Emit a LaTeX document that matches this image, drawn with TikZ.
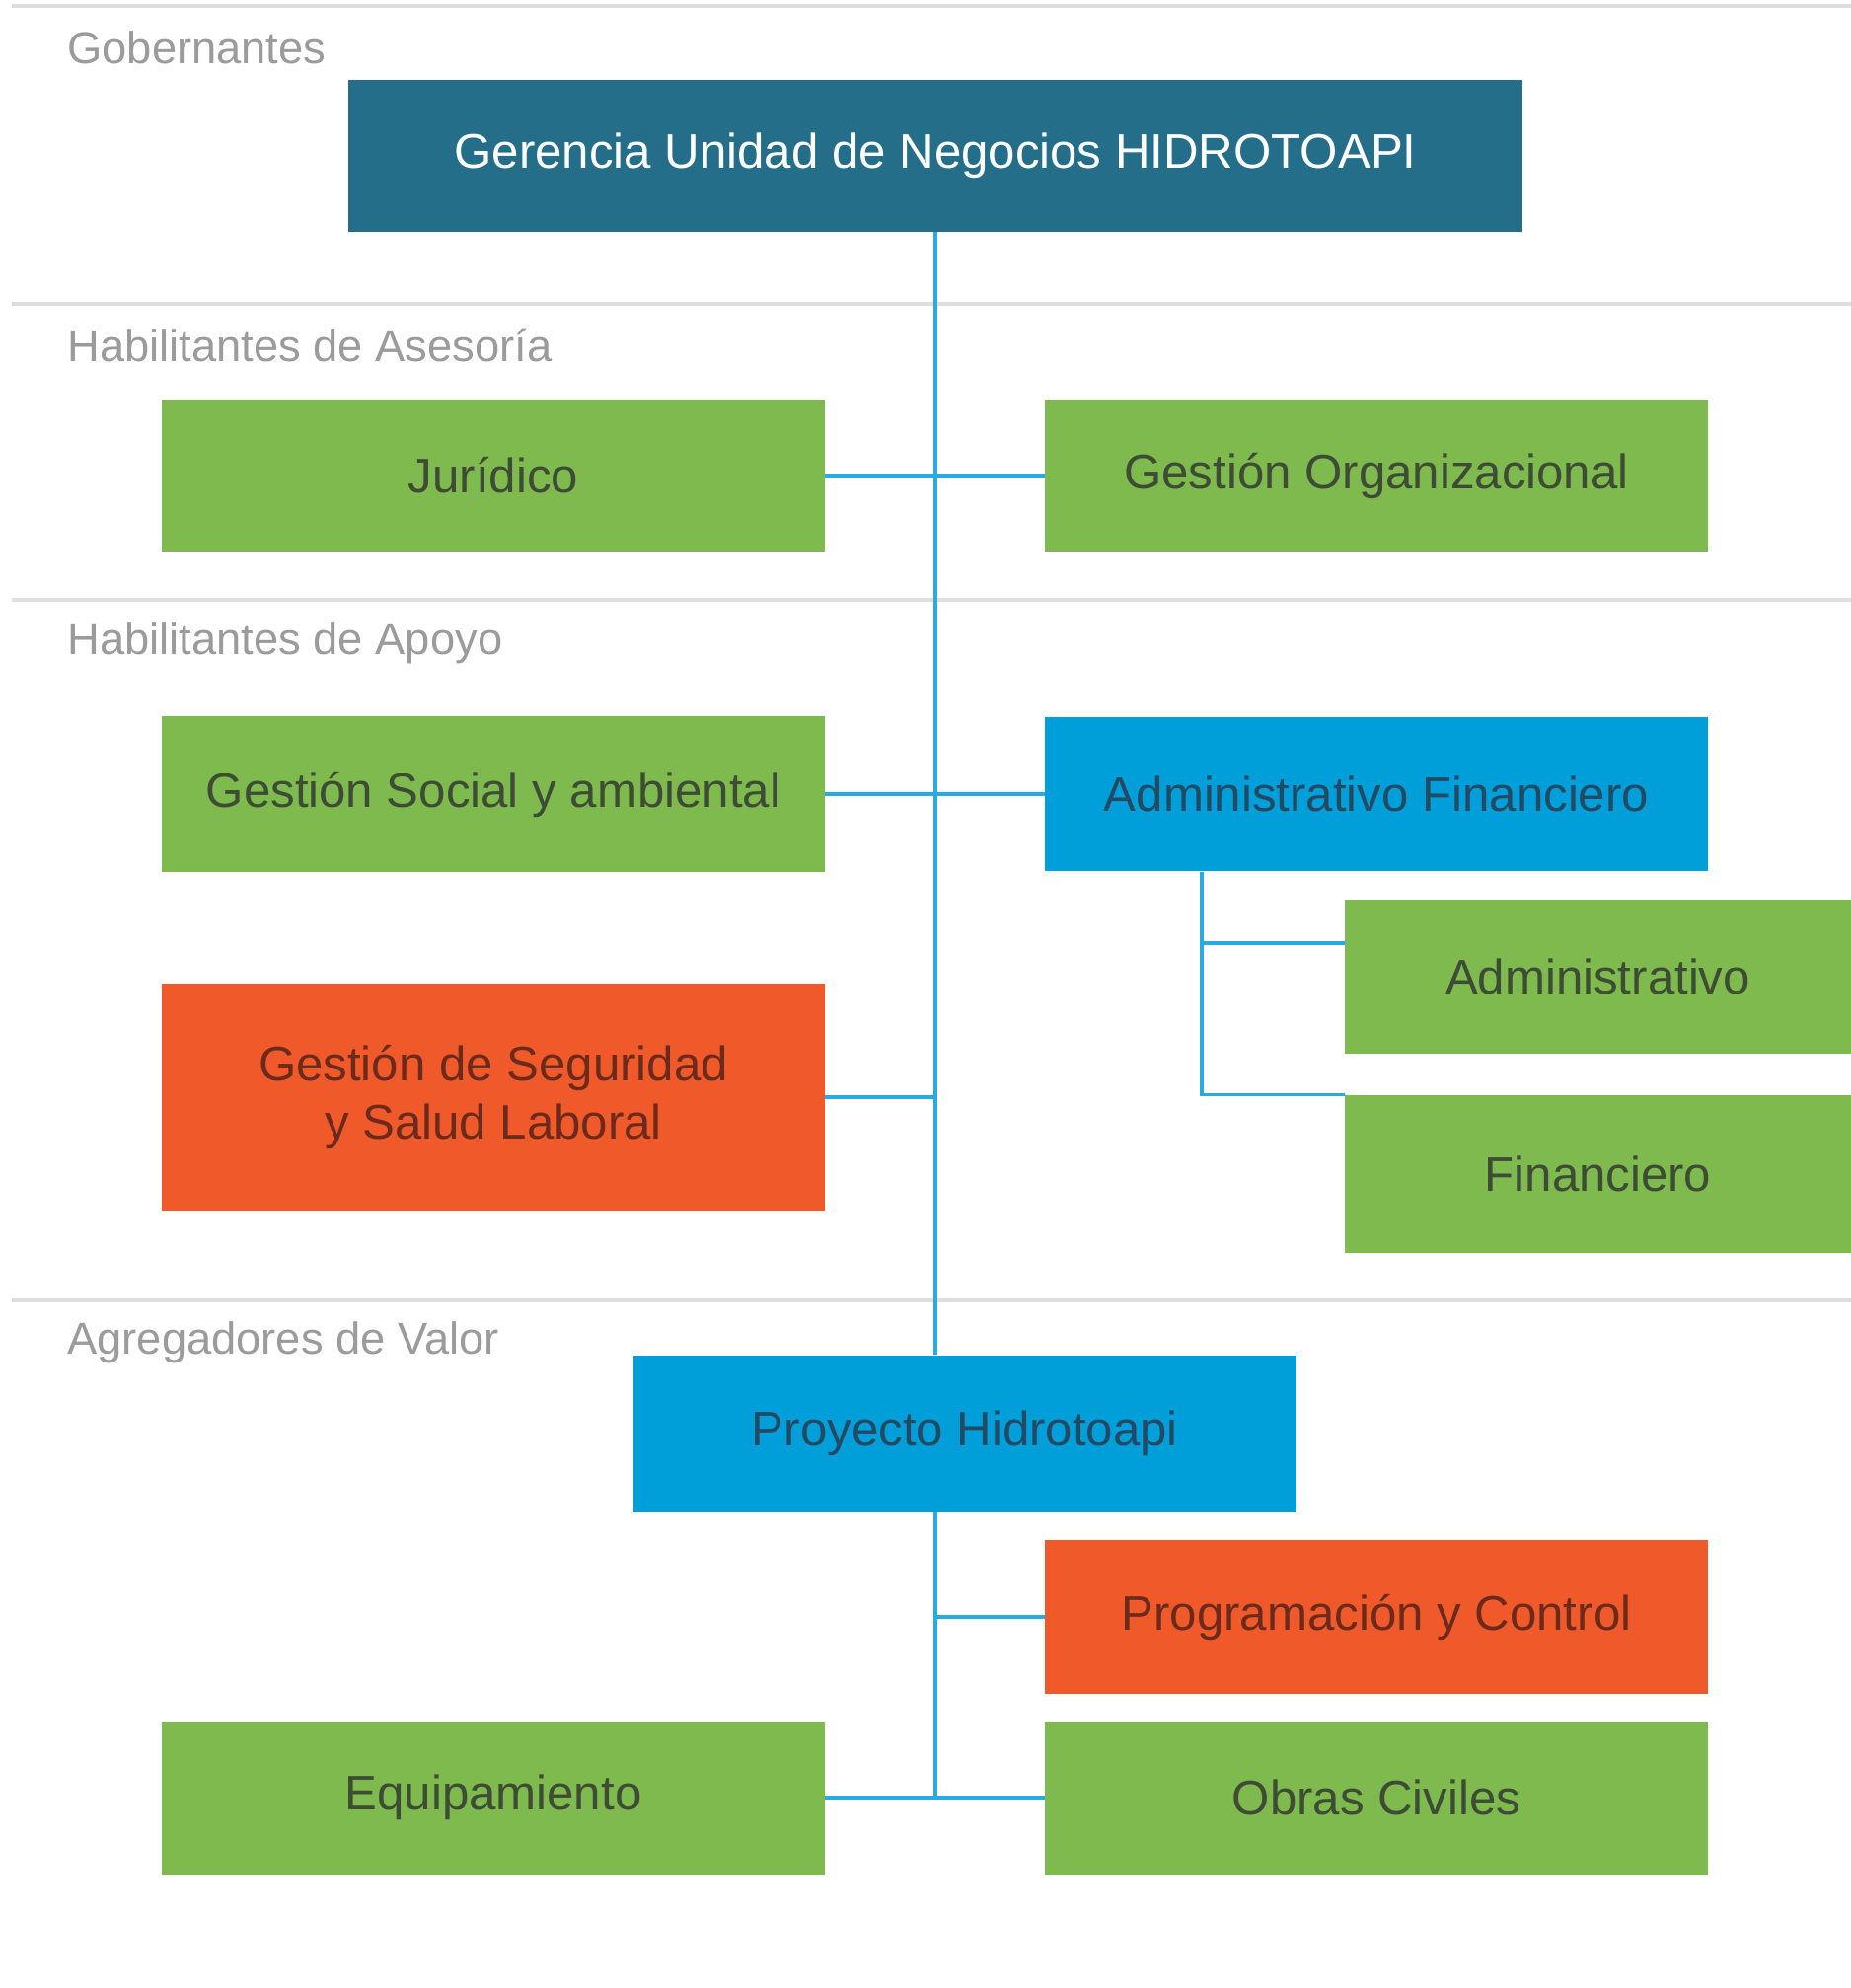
\documentclass[tikz,border=0pt]{standalone}
\usepackage{fontspec}
\setmainfont{Liberation Sans}
\usetikzlibrary{positioning}
\definecolor{topteal}{HTML}{246E89}
\definecolor{boxgreen}{HTML}{7EBA4E}
\definecolor{boxblue}{HTML}{009FDA}
\definecolor{boxorange}{HTML}{F05A2B}
\definecolor{linkblue}{HTML}{29ABE2}
\definecolor{sepgray}{HTML}{DEDEDE}
\definecolor{labelgray}{HTML}{9B9B9B}
\definecolor{txtgreen}{HTML}{3E4B35}
\definecolor{txtblue}{HTML}{234A63}
\definecolor{txtorange}{HTML}{6B2A1B}
\tikzstyle{tealblock}=[rectangle, fill=topteal, text=white, align=center, minimum width=23.8cm, minimum height=3.08cm, inner sep=0pt]
\tikzstyle{greenblock}=[rectangle, fill=boxgreen, text=txtgreen, align=center, minimum width=13.44cm, minimum height=3.1cm, inner sep=0pt]
\tikzstyle{blueblock}=[rectangle, fill=boxblue, text=txtblue, align=center, minimum width=13.44cm, minimum height=3.14cm, inner sep=0pt]
\tikzstyle{orangeblock}=[rectangle, fill=boxorange, text=txtorange, align=center, minimum width=13.44cm, minimum height=3.12cm, inner sep=0pt]
\tikzstyle{tierlabel}=[anchor=west, text=labelgray, inner sep=0pt, font=\fontsize{25.8}{30}\selectfont]
\tikzstyle{orgline}=[draw=linkblue, line width=1.9pt]
\tikzstyle{sepline}=[draw=sepgray, line width=1.9pt]

\begin{document}
\begin{tikzpicture}[x=0.02cm, y=-0.02cm, every node/.style = {font=\fontsize{28}{34}\selectfont}]
\useasboundingbox (0,0) rectangle (1876,2015);

% franjas
\draw[sepline] (12,6) -- (1876,6);
\draw[sepline] (12,308) -- (1876,308);
\draw[sepline] (12,608) -- (1876,608);
\draw[sepline] (12,1318) -- (1876,1318);

\node[tierlabel](t1) at (68,48) {Gobernantes};
\node[tierlabel](t2) at (68,350) {Habilitantes de Asesoría};
\node[tierlabel](t3) at (68,652) {Habilitantes de Apoyo};
\node[tierlabel](t4) at (68,1361) {Agregadores de Valor};

\node[tealblock](ger) at (948,158) {Gerencia Unidad de Negocios HIDROTOAPI};
\node[greenblock](jur) at (500,482) {Jurídico};
\node[greenblock](gorg) at (1395,482) {Gestión Organizacional};
\node[greenblock, minimum height=3.16cm](soc) at (500,805) {Gestión Social y ambiental};
\node[blueblock](afin) at (1395,805) {Administrativo Financiero};
\node[greenblock, minimum width=10.26cm, minimum height=3.12cm](adm) at (1619.5,990) {Administrativo};
\node[greenblock, minimum width=10.26cm, minimum height=3.2cm](fin) at (1619.5,1190) {Financiero};
\node[orangeblock, minimum height=4.6cm](seg) at (500,1112) {Gestión de Seguridad \\ y Salud Laboral};
\node[blueblock, minimum width=13.46cm, minimum height=3.18cm](proy) at (978,1453) {Proyecto Hidrotoapi};
\node[orangeblock](prog) at (1395,1639) {Programación y Control};
\node[greenblock](equip) at (500,1822) {Equipamiento};
\node[greenblock](obras) at (1395,1822) {Obras Civiles};

\coordinate (afb) at (1218,884);
\coordinate (afk) at (1218,956);

\draw[orgline] (ger.south) -- (ger.south |- proy.north);
\draw[orgline] (jur.east) -- (gorg.west);
\draw[orgline] (soc.east) -- (afin.west);
\draw[orgline] (seg.east) -- (seg.east -| ger.south);
\draw[orgline] (proy.south -| ger.south) -- (equip.east -| ger.south);
\draw[orgline] (prog.west) -- (prog.west -| ger.south);
\draw[orgline] (equip.east) -- (obras.west);
\draw[orgline] (afb) |- (fin.north west);
\draw[orgline] (afk) -- (afk -| adm.west);

\end{tikzpicture}
\end{document}
